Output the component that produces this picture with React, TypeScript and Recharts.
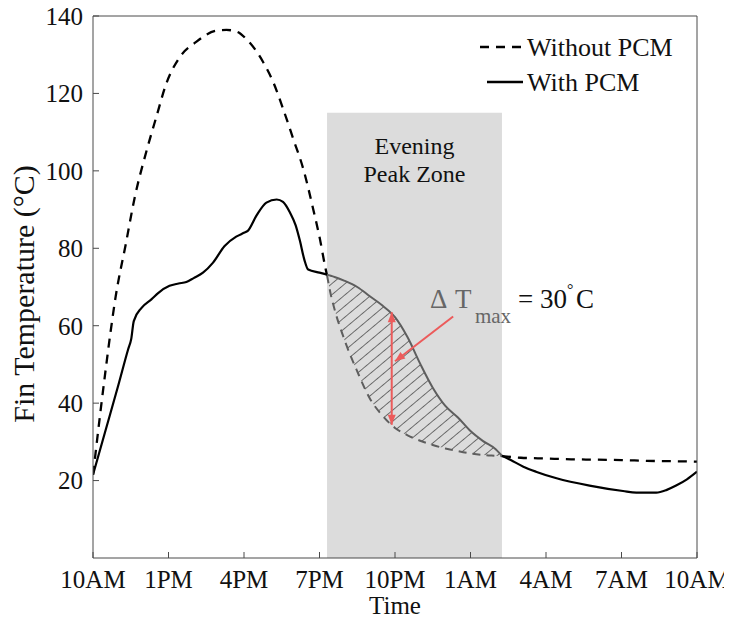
import React from 'react';
import {
  ComposedChart,
  Line,
  Area,
  XAxis,
  YAxis,
  ReferenceArea,
  ReferenceLine,
  ReferenceDot,
  Legend,
} from 'recharts';

const FONT = '"Liberation Serif", "Times New Roman", Times, serif';

// ---- axes ----
const hourTicks = [0, 3, 6, 9, 12, 15, 18, 21, 24];
const hourLabels = ['10AM', '1PM', '4PM', '7PM', '10PM', '1AM', '4AM', '7AM', '10AM'];
const tempTicks = [20, 40, 60, 80, 100, 120, 140];

// ---- series: hours after 10AM, temperature (°C) ----
const hoursWithout = [
  0, 0.1, 0.3, 0.5, 0.7, 0.9, 1.3, 1.67, 2.12, 2.52, 2.91, 3.44, 4.1, 4.9, 5.3, 5.7, 6.1, 6.77,
  7.17, 7.56, 7.96, 8.36, 8.75, 9.02, 9.22, 9.3, 9.45, 9.6, 10, 10.5, 11, 11.5, 12, 12.5, 13,
  13.5, 14, 14.5, 15, 15.5, 16, 16.25, 17, 18, 19, 20, 21, 22, 23, 24,
];
const tempsWithout = [
  21.5, 27, 38, 48.5, 58.5, 67.5, 81, 93.5, 105, 114, 122.5, 129.3, 133.3, 136.2, 136.4, 136,
  134, 128, 122.8, 115.9, 108.2, 100.4, 90.1, 82.3, 75.4, 73, 68, 64.2, 56.2, 48.2, 41.2, 36.8,
  33.6, 31.7, 30.3, 29.2, 28.3, 27.6, 27.0, 26.6, 26.4, 26.3, 25.9, 25.7, 25.5, 25.4, 25.3,
  25.1, 25.0, 24.9,
];

const hoursWith = [
  0, 0.5, 1.0, 1.4, 1.52, 1.62, 1.93, 2.32, 2.6, 3.04, 3.4, 3.71, 4.0, 4.37, 4.77, 5.23, 5.69,
  6.0, 6.15, 6.5, 6.89, 7.3, 7.55, 7.83, 8.05, 8.22, 8.4, 8.55, 9.0, 9.3, 9.45, 9.6, 10, 10.5,
  11, 11.5, 12, 12.5, 13, 13.5, 14, 14.5, 15, 15.5, 16, 16.25, 16.6, 17.1, 17.6, 18.42, 19.73,
  21.06, 21.59, 22.38, 22.8, 23.17, 23.6, 24,
];
const tempsWith = [
  21.5, 33, 44.5, 54, 56.6, 61.2, 64.6, 66.8, 68.5, 70.3, 70.9, 71.3, 72.3, 73.7, 76.3, 80.6,
  83.0, 84.0, 84.5, 88.5, 91.8, 92.6, 92.0, 89.2, 86, 82, 77, 74.5, 73.7, 73.2, 72.9, 72.6, 71.6,
  70.0, 67.6, 65.2, 62.2, 57, 50.2, 44.0, 39.3, 36.3, 32.8, 30.2, 28.1, 26.4, 25.3, 23.6, 22.3,
  20.6, 18.7, 17.3, 16.9, 16.9, 17.6, 18.7, 20.3, 22.3,
];

// ---- annotations ----
const zoneStart = 9.3;
const zoneEnd = 16.25;
const zoneTop = 115;
const zoneLabelLines = ['Evening', 'Peak Zone'];
const legendItems = [
  { label: 'Without PCM', dashed: true },
  { label: 'With PCM', dashed: false },
];
const deltaArrowHour = 11.87;
const deltaArrowTop = 63.5;
const deltaArrowBottom = 34.4;
const pointerFrom = { h: 14.31, t: 62.4 };
const pointerTo = { h: 12.0, t: 50.8 };
const deltaLabelAt = { h: 13.39, t: 64.6 };
const deltaParts = { delta: 'Δ', t: 'T', sub: 'max', eq: '=', value: '30', deg: '°', unit: 'C' };
const xTitle = 'Time';
const yTitle = 'Fin Temperature (°C)';

const ARROW = '#ec5b5b';
const ZONE_LINE = '#5e5e5e';
const AXIS = '#4a4a4a';

// ---- build table ----
const rowMap = new Map<number, any>();
const getRow = (h: number) => {
  if (!rowMap.has(h)) rowMap.set(h, { h });
  return rowMap.get(h);
};
function addSeries(hours: number[], temps: number[], prefix: string) {
  hours.forEach((h, i) => {
    const r = getRow(h);
    const t = temps[i];
    if (h <= zoneStart) r[prefix + 'Pre'] = t;
    if (h >= zoneStart && h <= zoneEnd) r[prefix + 'Zone'] = t;
    if (h >= zoneEnd) r[prefix + 'Post'] = t;
  });
}
addSeries(hoursWithout, tempsWithout, 'wo');
addSeries(hoursWith, tempsWith, 'w');
const data = Array.from(rowMap.values()).sort((a, b) => a.h - b.h);
data.forEach((r) => {
  if (r.woZone != null && r.wZone != null) r.band = [r.woZone, r.wZone];
});

// ---- render helpers ----
const renderLegend = () => (
  <svg width={240} height={70} style={{ display: 'block' }}>
    {legendItems.map((it, i) => {
      const y = 19 + i * 35;
      return (
        <g key={it.label}>
          <line
            x1={it.dashed ? 0 : 7}
            x2={it.dashed ? 45 : 43}
            y1={y}
            y2={y}
            stroke="#000"
            strokeWidth={2.3}
            strokeDasharray={it.dashed ? '9 7' : undefined}
          />
          <text x={47} y={y + 9} fontFamily={FONT} fontSize={26} fill="#111">
            {it.label}
          </text>
        </g>
      );
    })}
  </svg>
);

const renderZoneLabel = (props: any) => {
  const { x, y, width } = props.viewBox;
  return (
    <g>
      {zoneLabelLines.map((s, i) => (
        <text
          key={s}
          x={x + width / 2}
          y={y + 41 + i * 28.5}
          textAnchor="middle"
          fontFamily={FONT}
          fontSize={24}
          fill="#111"
        >
          {s}
        </text>
      ))}
    </g>
  );
};

const renderTimeLabel = (props: any) => {
  const { x, y, width } = props.viewBox;
  return (
    <text x={x + width / 2} y={y + 56} textAnchor="middle" fontFamily={FONT} fontSize={25} fill="#111">
      {xTitle}
    </text>
  );
};

const renderYLabel = (props: any) => {
  const { x, y, height } = props.viewBox;
  const cx = x + 26;
  const cy = y + height / 2 + 7;
  return (
    <text
      x={cx}
      y={cy}
      transform={`rotate(-90, ${cx}, ${cy})`}
      textAnchor="middle"
      fontFamily={FONT}
      fontSize={30}
      fill="#111"
    >
      {yTitle}
    </text>
  );
};

const headPoints = (xa: number, ya: number, xb: number, yb: number) => {
  const dx = xb - xa;
  const dy = yb - ya;
  const L = Math.hypot(dx, dy) || 1;
  const ux = dx / L;
  const uy = dy / L;
  const bx = xb - ux * 10;
  const by = yb - uy * 10;
  return `${xb},${yb} ${bx - uy * 4},${by + ux * 4} ${bx + uy * 4},${by - ux * 4}`;
};

const makeArrow = (both: boolean) => (p: any) => {
  const { x1, y1, x2, y2 } = p;
  return (
    <g>
      <line x1={x1} y1={y1} x2={x2} y2={y2} stroke={ARROW} strokeWidth={2} />
      <polygon points={headPoints(x1, y1, x2, y2)} fill={ARROW} />
      {both && <polygon points={headPoints(x2, y2, x1, y1)} fill={ARROW} />}
    </g>
  );
};

const renderDeltaText = (p: any) => {
  const { cx, cy } = p;
  return (
    <g fontFamily={FONT}>
      <text x={cx} y={cy} fontSize={27} fill="#666">{deltaParts.delta}</text>
      <text x={cx + 25} y={cy} fontSize={27} fill="#666">{deltaParts.t}</text>
      <text x={cx + 45} y={cy + 15} fontSize={21} fill="#666">{deltaParts.sub}</text>
      <text x={cx + 88} y={cy} fontSize={27} fill="#111">{deltaParts.eq}</text>
      <text x={cx + 110} y={cy} fontSize={27} fill="#111">{deltaParts.value}</text>
      <text x={cx + 137} y={cy - 13} fontSize={16} fill="#111">{deltaParts.deg}</text>
      <text x={cx + 146} y={cy} fontSize={27} fill="#111">{deltaParts.unit}</text>
    </g>
  );
};

const tickStyle = { fill: '#111', fontSize: 25, fontFamily: FONT };

export default function App() {
  return (
    <div style={{ marginTop: -8, width: 724, height: 620, overflow: 'visible' }}>
      <ComposedChart
        width={724}
        height={620}
        data={data}
        margin={{ top: 15, right: 34, bottom: 0, left: 0 }}
        style={{ overflow: 'visible' }}
      >
        <defs>
          <pattern
            id="hatch"
            patternUnits="userSpaceOnUse"
            width={8.5}
            height={8.5}
            patternTransform="rotate(50)"
          >
            <line x1={0} y1={0} x2={0} y2={8.5} stroke="#5a5a5a" strokeWidth={1.7} />
          </pattern>
        </defs>
        <XAxis
          dataKey="h"
          type="number"
          domain={[0, 24]}
          ticks={hourTicks}
          interval={0}
          tickFormatter={(v: number) => hourLabels[hourTicks.indexOf(v)]}
          height={62}
          tickSize={-6}
          tickMargin={18.5}
          stroke={AXIS}
          tick={tickStyle}
          label={renderTimeLabel}
          allowDataOverflow
        />
        <XAxis
          xAxisId="top"
          orientation="top"
          dataKey="h"
          type="number"
          domain={[0, 24]}
          ticks={hourTicks}
          interval={0}
          height={1}
          tickSize={-6}
          tick={false}
          stroke={AXIS}
          allowDataOverflow
        />
        <YAxis
          type="number"
          domain={[0, 140]}
          ticks={tempTicks}
          interval={0}
          width={85}
          tickSize={-6}
          tickMargin={16}
          stroke={AXIS}
          tick={tickStyle}
          label={renderYLabel}
          allowDataOverflow
        />
        <YAxis
          yAxisId="right"
          orientation="right"
          type="number"
          domain={[0, 140]}
          ticks={tempTicks}
          interval={0}
          width={1}
          tickSize={-6}
          tick={false}
          stroke={AXIS}
          allowDataOverflow
        />
        <ReferenceArea
          x1={zoneStart}
          x2={zoneEnd}
          y1={0}
          y2={zoneTop}
          fill="#dcdcdc"
          fillOpacity={1}
          stroke="none"
          label={renderZoneLabel}
        />
        <Area
          dataKey="band"
          type="monotone"
          fill="url(#hatch)"
          fillOpacity={1}
          stroke="none"
          connectNulls
          isAnimationActive={false}
          dot={false}
          activeDot={false}
        />
        <Line dataKey="woPre" type="monotone" stroke="#000" strokeWidth={2.3} strokeDasharray="9 7" dot={false} activeDot={false} connectNulls isAnimationActive={false} />
        <Line dataKey="woZone" type="monotone" stroke={ZONE_LINE} strokeWidth={2} strokeDasharray="8 6" dot={false} activeDot={false} connectNulls isAnimationActive={false} />
        <Line dataKey="woPost" type="monotone" stroke="#000" strokeWidth={2.3} strokeDasharray="9 7" dot={false} activeDot={false} connectNulls isAnimationActive={false} />
        <Line dataKey="wPre" type="monotone" stroke="#000" strokeWidth={2.2} dot={false} activeDot={false} connectNulls isAnimationActive={false} />
        <Line dataKey="wZone" type="monotone" stroke={ZONE_LINE} strokeWidth={2} dot={false} activeDot={false} connectNulls isAnimationActive={false} />
        <Line dataKey="wPost" type="monotone" stroke="#000" strokeWidth={2.2} dot={false} activeDot={false} connectNulls isAnimationActive={false} />
        <ReferenceLine
          segment={[
            { x: deltaArrowHour, y: deltaArrowTop },
            { x: deltaArrowHour, y: deltaArrowBottom },
          ]}
          shape={makeArrow(true)}
        />
        <ReferenceLine
          segment={[
            { x: pointerFrom.h, y: pointerFrom.t },
            { x: pointerTo.h, y: pointerTo.t },
          ]}
          shape={makeArrow(false)}
        />
        <ReferenceDot x={deltaLabelAt.h} y={deltaLabelAt.t} r={0} shape={renderDeltaText} />
        <Legend
          content={renderLegend}
          layout="vertical"
          align="center"
          verticalAlign="middle"
          wrapperStyle={{ position: 'absolute', left: 472, top: 28, width: 240, height: 70 }}
        />
      </ComposedChart>
    </div>
  );
}
